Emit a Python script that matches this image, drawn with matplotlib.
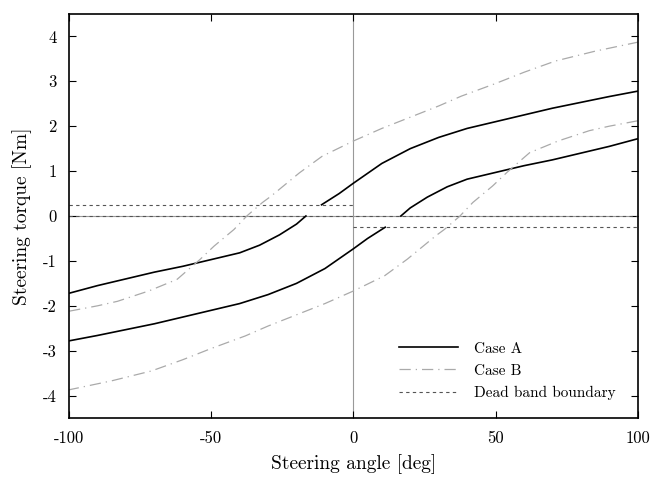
import numpy as np
import matplotlib
matplotlib.use("Agg")
import matplotlib.pyplot as plt

plt.rcParams['font.family'] = ['cmr10', 'DejaVu Serif']
plt.rcParams['axes.unicode_minus'] = False
plt.rcParams['mathtext.fontset'] = 'cm'

# Case A: rising branch (two pieces, jump across the dead band)
a_up1_x = [-100, -90, -80, -70, -60, -50, -40, -33, -26, -20, -16.7]
a_up1_y = [-1.72, -1.55, -1.40, -1.25, -1.12, -0.97, -0.82, -0.65, -0.42, -0.18, 0.0]
a_up2_x = [-11.2, -5, 0, 10, 20, 30, 40, 50, 60, 70, 80, 90, 100]
a_up2_y = [0.25, 0.50, 0.73, 1.17, 1.50, 1.75, 1.95, 2.10, 2.25, 2.40, 2.53, 2.66, 2.78]

# Case B: rising branch
b_up_x = [-100, -90, -83, -72, -62, -54, -49, -42, -37.5, -32, -29, -19, -11, 0,
          10, 20, 30, 38, 50, 60, 71, 85, 100]
b_up_y = [-2.12, -2.00, -1.90, -1.67, -1.41, -0.97, -0.67, -0.30, 0.0, 0.30, 0.44, 0.96, 1.33, 1.67,
          1.95, 2.20, 2.45, 2.67, 2.95, 3.20, 3.45, 3.67, 3.87]

# dead band boundary
db_level = 0.25

fig, ax = plt.subplots(figsize=(6.52, 4.8), dpi=100)
fig.subplots_adjust(left=0.106, right=0.978, top=0.971, bottom=0.129)

ax.axvline(0, color='#999999', lw=0.8, zorder=1)
ax.axhline(0, color='#999999', lw=0.8, zorder=1)

dash = dict(color='#555555', lw=0.8, ls=(0, (3, 3)))
ax.plot([-100, 100], [0, 0], **dash)
ax.plot([-100, 0], [db_level, db_level], **dash)
ax.plot([0, 100], [-db_level, -db_level], **dash, label='Dead band boundary')

ca = dict(color='black', lw=1.2)
ax.plot(a_up1_x, a_up1_y, **ca, label='Case A')
ax.plot(a_up2_x, a_up2_y, **ca)
ax.plot(-np.array(a_up1_x), -np.array(a_up1_y), **ca)
ax.plot(-np.array(a_up2_x), -np.array(a_up2_y), **ca)

cb = dict(color='#aaaaaa', lw=0.9, ls=(0, (9, 4, 1, 4)))
ax.plot(b_up_x, b_up_y, **cb, label='Case B')
ax.plot(-np.array(b_up_x), -np.array(b_up_y), **cb)

ax.set_xlim(-100, 100)
ax.set_ylim(-4.5, 4.5)
ax.set_xticks([-100, -50, 0, 50, 100])
ax.set_yticks(range(-4, 5))
ax.tick_params(direction='in', top=True, right=True, length=5, width=0.8,
               labelsize=12, pad=9)
for s in ax.spines.values():
    s.set_linewidth(1.2)

ax.set_xlabel('Steering angle [deg]', fontsize=14, labelpad=6)
ax.set_ylabel('Steering torque [Nm]', fontsize=14, labelpad=8)

h, l = ax.get_legend_handles_labels()
order = [l.index('Case A'), l.index('Case B'), l.index('Dead band boundary')]
ax.legend([h[i] for i in order], [l[i] for i in order], loc='lower right',
          frameon=False, fontsize=11, handlelength=3.9, handletextpad=1.0,
          labelspacing=0.55, bbox_to_anchor=(0.985, 0.01))

fig.savefig('out.png', dpi=100)
